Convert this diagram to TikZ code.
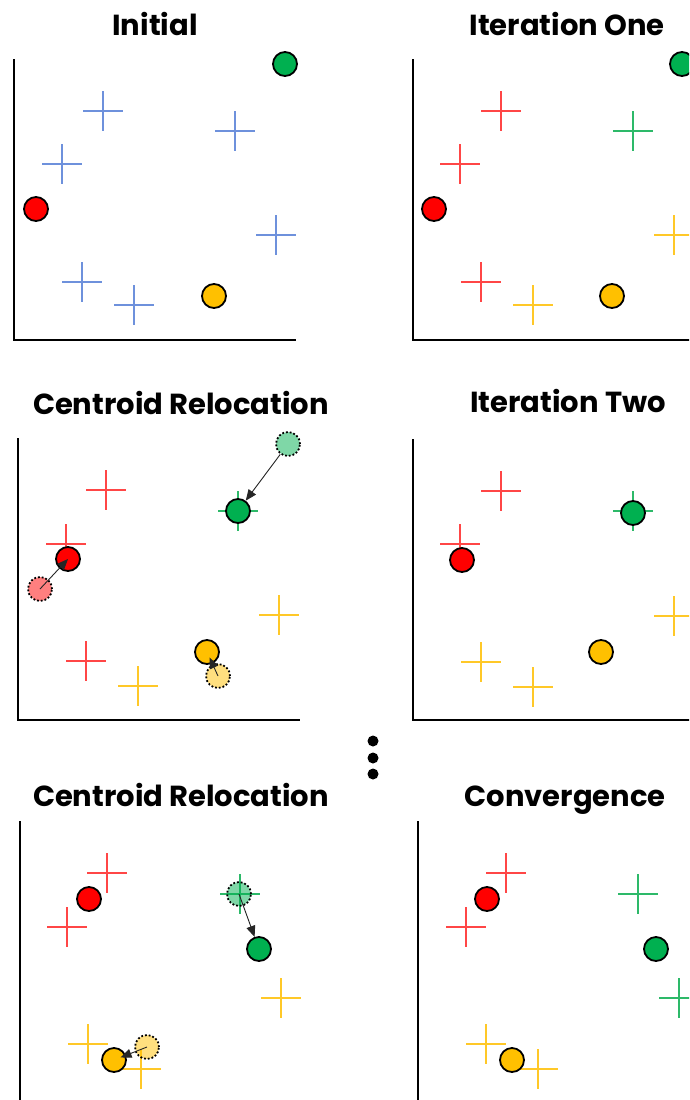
\documentclass[tikz,border=0pt]{standalone}
\usepackage{fontspec}
\newfontfamily\titlefont{Poppins}
\usetikzlibrary{arrows.meta}

\definecolor{cred}{RGB}{255,0,0}
\definecolor{cgreen}{RGB}{0,176,80}
\definecolor{cyellow}{RGB}{255,192,0}
\definecolor{pblue}{RGB}{110,145,220}
\definecolor{pred}{RGB}{255,70,70}
\definecolor{pgreen}{RGB}{45,185,105}
\definecolor{pyellow}{RGB}{255,200,40}

\tikzset{
  ctr/.style={circle, draw=black, line width=1.8pt, minimum size=24pt, inner sep=0pt},
  oldctr/.style={ctr, dotted, fill opacity=0.5},
  move/.style={-{Triangle[length=11pt,width=9pt]}, line width=0.9pt, draw=black!85},
  ttl/.style={font=\titlefont\bfseries\fontsize{29}{29}\selectfont, anchor=base, inner sep=0pt},
  axisline/.style={line width=2.8pt},
  dotmark/.style={circle, fill=black, minimum size=11pt, inner sep=0pt},
  pt/.pic={\draw[line width=1.4pt] (-20,0) -- (20,0) (0,-20) -- (0,20);}
}

\begin{document}
\begin{tikzpicture}[x=1pt, y=-1pt]
\clip (0,0) rectangle (689,1100);
\fill[white] (0,0) rectangle (689,1100);

% ---------- panel: Initial ----------
\node[ttl] (t1) at (155,35) {Initial};
\draw[axisline] (14,59) -- (14,340) -- (296,340);
\foreach \p in {(103,111),(62,164),(235,131),(276,235),(82,282),(134,305)}
  \pic[color=pblue] at \p {pt};
\node[ctr, fill=cred]    (a1r) at (36,209) {};
\node[ctr, fill=cgreen]  (a1g) at (285,64) {};
\node[ctr, fill=cyellow] (a1y) at (214,296) {};

% ---------- panel: Iteration One ----------
\node[ttl] (t2) at (567,35) {Iteration One};
\draw[axisline] (413,59) -- (413,340) -- (700,340);
\foreach \p in {(501,111),(460,164),(481,282)} \pic[color=pred] at \p {pt};
\pic[color=pgreen] at (633,131) {pt};
\foreach \p in {(674,235),(533,305)} \pic[color=pyellow] at \p {pt};
\node[ctr, fill=cred]    (a2r) at (434,209) {};
\node[ctr, fill=cgreen]  (a2g) at (682,64) {};
\node[ctr, fill=cyellow] (a2y) at (612,296) {};

% ---------- panel: Centroid Relocation (first) ----------
\node[ttl] (t3) at (181,414) {Centroid Relocation};
\draw[axisline] (18,438) -- (18,720) -- (300,720);
\foreach \p in {(106,490),(66,544),(86,661)} \pic[color=pred] at \p {pt};
\pic[color=pgreen] at (238,511) {pt};
\foreach \p in {(279,615),(138,686)} \pic[color=pyellow] at \p {pt};
\node[oldctr, fill=cgreen]  (o3g) at (288,444) {};
\node[oldctr, fill=cred]    (o3r) at (40,589) {};
\node[oldctr, fill=cyellow] (o3y) at (218,676) {};
\node[ctr, fill=cgreen]  (n3g) at (238,511) {};
\node[ctr, fill=cred]    (n3r) at (68,559) {};
\node[ctr, fill=cyellow] (n3y) at (207,652) {};
\draw[move] (o3g) -- (n3g);
\draw[move] (o3r.center) -- (n3r.center);
\draw[move, shorten >=6pt] (o3y.center) -- (n3y.center);

% ---------- panel: Iteration Two ----------
\node[ttl] (t4) at (568,412) {Iteration Two};
\draw[axisline] (413,439) -- (413,720) -- (700,720);
\foreach \p in {(501,491),(460,544)} \pic[color=pred] at \p {pt};
\pic[color=pgreen] at (633,511) {pt};
\foreach \p in {(674,616),(481,662),(533,687)} \pic[color=pyellow] at \p {pt};
\node[ctr, fill=cred]    (b4r) at (462,560) {};
\node[ctr, fill=cgreen]  (b4g) at (633,513) {};
\node[ctr, fill=cyellow] (b4y) at (601,652) {};

% ---------- vertical ellipsis ----------
\node[dotmark] (d1) at (373,741) {};
\node[dotmark] (d2) at (373,758) {};
\node[dotmark] (d3) at (373,774) {};

% ---------- panel: Centroid Relocation (second) ----------
\node[ttl] (t5) at (181,806) {Centroid Relocation};
\draw[axisline] (20,821) -- (20,1110);
\foreach \p in {(107,873),(67,927)} \pic[color=pred] at \p {pt};
\pic[color=pgreen] at (240,894) {pt};
\foreach \p in {(281,998),(88,1044),(141,1069)} \pic[color=pyellow] at \p {pt};
\node[oldctr, fill=cgreen]  (o5g) at (239,894) {};
\node[oldctr, fill=cyellow] (o5y) at (147,1047) {};
\node[ctr, fill=cred]    (n5r) at (89,899) {};
\node[ctr, fill=cgreen]  (n5g) at (259,949) {};
\node[ctr, fill=cyellow] (n5y) at (114,1060) {};
\draw[move] (o5g.center) -- (n5g);
\draw[move, shorten >=7pt] (o5y.center) -- (n5y.center);

% ---------- panel: Convergence ----------
\node[ttl] (t6) at (565,806) {Convergence};
\draw[axisline] (418,821) -- (418,1110);
\foreach \p in {(506,873),(466,927)} \pic[color=pred] at \p {pt};
\foreach \p in {(638,894),(679,998)} \pic[color=pgreen] at \p {pt};
\foreach \p in {(486,1044),(538,1069)} \pic[color=pyellow] at \p {pt};
\node[ctr, fill=cred]    (c6r) at (487,899) {};
\node[ctr, fill=cgreen]  (c6g) at (656,949) {};
\node[ctr, fill=cyellow] (c6y) at (512,1060) {};
\end{tikzpicture}
\end{document}
